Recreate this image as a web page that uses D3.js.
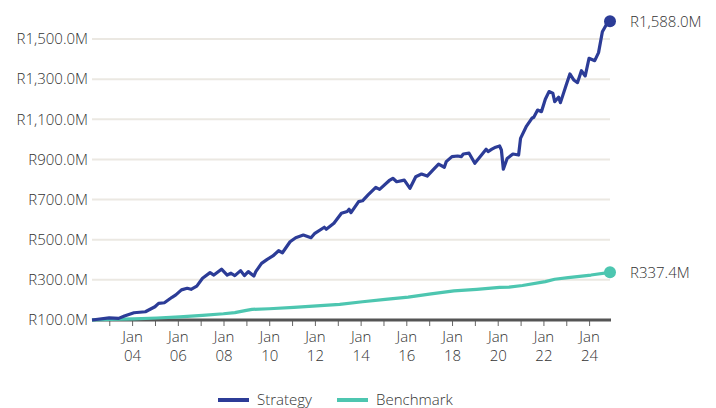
<!DOCTYPE html>
<html>
<head>
<meta charset="utf-8">
<script src="https://cdn.jsdelivr.net/npm/d3@7"></script>
<style>
  body { margin: 0; background: #fff; }
  text { font-family: "Open Sans", sans-serif; font-weight: 300; fill: #333; }
</style>
</head>
<body>
<div id="chart"></div>
<script>
// month-end values, R millions
var strategyDates = ["2002-03","2002-12","2003-05","2003-08","2004-01","2004-07","2004-12","2005-02","2005-05","2005-09","2005-11",
  "2006-02","2006-05","2006-07","2006-10","2007-01","2007-05","2007-07","2007-11","2008-02","2008-04","2008-06","2008-09","2008-11",
  "2009-01","2009-04","2009-05","2009-08","2009-11","2010-02","2010-05","2010-07","2010-11","2011-02","2011-06","2011-10","2011-12",
  "2012-05","2012-06","2012-10","2013-02","2013-05","2013-06","2013-07","2013-11","2014-01","2014-04","2014-08","2014-10","2015-03",
  "2015-05","2015-07","2015-11","2016-02","2016-05","2016-08","2016-11","2017-02","2017-05","2017-08","2017-09","2017-12","2018-03",
  "2018-05","2018-06","2018-09","2018-12","2019-04","2019-06","2019-07","2019-09","2019-11","2020-01","2020-02","2020-03","2020-05",
  "2020-08","2020-11","2020-12","2021-03","2021-06","2021-07","2021-09","2021-11","2022-01","2022-03","2022-05","2022-06","2022-08",
  "2022-09","2022-12","2023-02","2023-04","2023-06","2023-08","2023-10","2023-12","2024-03","2024-05","2024-07","2024-09","2024-11"];
var strategyValues = [100,111,108,120,136,141,166,183,186,213,225,
  250,258,253,269,308,336,324,353,324,333,321,346,321,
  341,319,341,382,402,419,445,435,490,510,523,510,532,
  562,552,582,632,641,652,635,690,694,723,761,751,794,
  806,789,797,756,814,827,817,847,877,861,889,914,917,
  914,927,931,881,927,951,939,951,961,967,947,851,905,
  927,922,1005,1063,1105,1110,1146,1138,1200,1238,1230,1188,1210,
  1183,1271,1326,1296,1283,1342,1316,1404,1392,1432,1536,1570,1588.0];

var benchmarkDates = ["2002-03","2003-01","2004-01","2005-01","2006-01","2007-01","2007-12","2008-06","2008-12","2009-03","2009-12",
  "2011-01","2012-01","2013-01","2014-01","2015-01","2016-01","2017-01","2018-01","2019-01","2020-01","2020-06","2021-01",
  "2022-01","2022-06","2023-01","2024-01","2024-11"];
var benchmarkValues = [100,103,106,110,116,123,131,137,148,153,156,
  163,170,178,191,203,214,230,245,253,263,264,272,
  291,303,311,324,337.4];

var yTicks = [100,300,500,700,900,1100,1300,1500];
var seriesNames = ["Strategy","Benchmark"];
var seriesColors = ["#2c3c97","#4dc6b0"];

var width = 716, height = 408;
var marginLeft = 92, marginRight = 106, marginTop = 39, marginBottom = 88;

var parseMonth = d3.timeParse("%Y-%m");
function monthEnd(s) {
  return d3.timeDay.offset(d3.timeMonth.offset(parseMonth(s), 1), -1);
}
var strategy = strategyDates.map(function(d,i) { return {date: monthEnd(d), value: strategyValues[i]}; });
var benchmark = benchmarkDates.map(function(d,i) { return {date: monthEnd(d), value: benchmarkValues[i]}; });

var svg = d3.select("#chart").append("svg").attr("width",width).attr("height",height);

var xScale = d3.scaleTime()
  .domain([strategy[0].date, strategy[strategy.length-1].date])
  .range([marginLeft, width-marginRight]);
var yScale = d3.scaleLinear().domain([100,1500]).range([height-marginBottom, marginTop]);

// gridlines
svg.append("g").selectAll("line").data(yTicks.slice(1)).enter()
  .append("line")
  .attr("x1",marginLeft).attr("x2",width-marginRight)
  .attr("y1",function(d){ return yScale(d); })
  .attr("y2",function(d){ return yScale(d); })
  .attr("stroke","#ebe8e2")
  .attr("stroke-width",2);

// y labels
svg.append("g").selectAll("text").data(yTicks).enter()
  .append("text")
  .attr("x",marginLeft-4)
  .attr("y",function(d){ return yScale(d); })
  .attr("dy","0.35em")
  .attr("text-anchor","end")
  .attr("font-size","15px")
  .text(function(d){ return "R" + d3.format(",.1f")(d) + "M"; });

// x axis
var xAxis = d3.axisBottom(xScale)
  .ticks(d3.timeYear.every(1))
  .tickSize(6)
  .tickFormat("");
var gx = svg.append("g")
  .attr("transform","translate(0," + (height-marginBottom) + ")")
  .call(xAxis);
gx.select(".domain").remove();
gx.selectAll(".tick line").attr("stroke","#666").attr("stroke-width",1);
gx.selectAll(".tick").filter(function(d){ return d.getFullYear() % 2 == 0; })
  .each(function(d) {
    var t = d3.select(this).append("text").attr("text-anchor","middle").attr("font-size","15px");
    t.append("tspan").attr("x",0).attr("y",22).text("Jan");
    t.append("tspan").attr("x",0).attr("y",41).text(d3.timeFormat("%y")(d));
  });
svg.append("line")
  .attr("x1",marginLeft).attr("x2",width-marginRight+1)
  .attr("y1",height-marginBottom).attr("y2",height-marginBottom)
  .attr("stroke","#555").attr("stroke-width",3);

var line = d3.line()
  .x(function(d){ return xScale(d.date); })
  .y(function(d){ return yScale(d.value); });

[benchmark, strategy].forEach(function(data, k) {
  var idx = k == 0 ? 1 : 0;
  svg.append("path").datum(data)
    .attr("fill","none")
    .attr("stroke",seriesColors[idx])
    .attr("stroke-width",3.2)
    .attr("stroke-linejoin","round")
    .attr("d",line);
  var last = data[data.length-1];
  svg.append("circle")
    .attr("cx",xScale(last.date)).attr("cy",yScale(last.value))
    .attr("r",6).attr("fill",seriesColors[idx]);
  svg.append("text")
    .attr("x",xScale(last.date)+20).attr("y",yScale(last.value))
    .attr("dy","0.35em")
    .attr("font-size","15px")
    .text("R" + d3.format(",.1f")(last.value) + "M");
});

// legend
var legendX = [218, 337];
seriesNames.forEach(function(name, i) {
  var g = svg.append("g").attr("transform","translate(" + legendX[i] + ",400)");
  g.append("line").attr("x1",0).attr("x2",31).attr("y1",0).attr("y2",0)
    .attr("stroke",seriesColors[i]).attr("stroke-width",4);
  g.append("text").attr("x",39).attr("y",0).attr("dy","0.35em")
    .attr("font-size","15px").text(name);
});
</script>
</body>
</html>
